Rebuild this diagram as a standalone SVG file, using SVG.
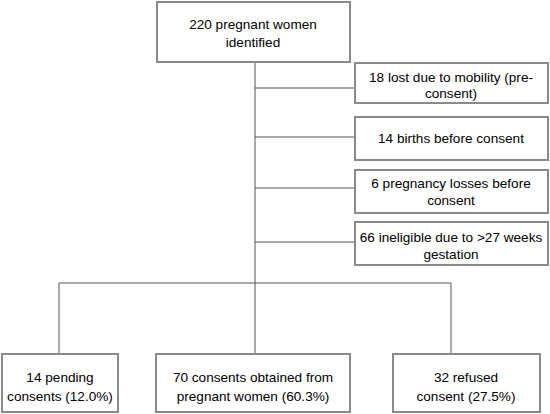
<svg xmlns="http://www.w3.org/2000/svg" width="550" height="414" viewBox="0 0 550 414">
<style>
.box{fill:#fff;stroke:#8a8a8a;stroke-width:2}
.ln{stroke:#555;stroke-width:1;fill:none}
text{font-family:"Liberation Sans",Arial,sans-serif;font-size:13.6px;fill:#000;text-anchor:middle}
</style>
<rect width="550" height="414" fill="#fff"/>
<g id="connectors">
<line class="ln" x1="255" y1="63" x2="255" y2="283"/>
<line class="ln" x1="255" y1="88" x2="355" y2="88"/>
<line class="ln" x1="255" y1="137" x2="355" y2="137"/>
<line class="ln" x1="255" y1="188" x2="355" y2="188"/>
<line class="ln" x1="255" y1="242" x2="355" y2="242"/>
<line class="ln" x1="59" y1="283" x2="451" y2="283"/>
<line class="ln" x1="59" y1="283" x2="59" y2="354"/>
<line class="ln" x1="255" y1="283" x2="255" y2="354"/>
<line class="ln" x1="451" y1="283" x2="451" y2="354"/>
</g>
<g id="n_top"><rect class="box" x="157" y="2" width="193" height="60"/><text x="253" y="29">220 pregnant women</text><text x="253" y="47">identified</text></g>
<g id="n_lost"><rect class="box" x="355" y="63" width="193" height="40"/><text x="451" y="82">18 lost due to mobility (pre-</text><text x="451" y="98">consent)</text></g>
<g id="n_births"><rect class="box" x="355" y="117" width="193" height="43"/><text x="451" y="143">14 births before consent</text></g>
<g id="n_losses"><rect class="box" x="355" y="170" width="193" height="43"/><text x="451" y="188">6 pregnancy losses before</text><text x="451" y="205">consent</text></g>
<g id="n_inelig"><rect class="box" x="355" y="222" width="193" height="43"/><text x="451" y="242">66 ineligible due to &gt;27 weeks</text><text x="451" y="259">gestation</text></g>
<g id="n_pending"><rect class="box" x="2" y="354" width="116" height="58"/><text x="60" y="382">14 pending</text><text x="60" y="401">consents (12.0%)</text></g>
<g id="n_obtained"><rect class="box" x="156" y="354" width="194" height="58"/><text x="253" y="382">70 consents obtained from</text><text x="253" y="401">pregnant women (60.3%)</text></g>
<g id="n_refused"><rect class="box" x="393" y="354" width="147" height="58"/><text x="466" y="382">32 refused</text><text x="466" y="401">consent (27.5%)</text></g>
</svg>
